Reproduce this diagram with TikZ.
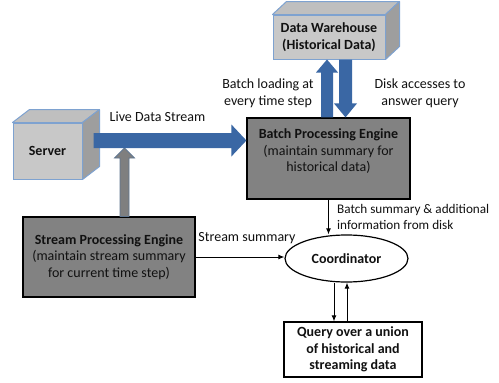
\documentclass[tikz,border=0pt]{standalone}
\usepackage{fontspec}
\setmainfont{Carlito}
\usetikzlibrary{arrows.meta,calc,shapes.geometric}
\definecolor{fatblue}{HTML}{3A67A4}
\definecolor{cubeedge}{HTML}{7EA2D0}
\definecolor{cubefront}{HTML}{C8C8C8}
\definecolor{cubetop}{HTML}{BFBFBF}
\definecolor{cubeside}{HTML}{9E9E9E}
\definecolor{enginegray}{HTML}{828282}
\definecolor{pipegray}{HTML}{7F7F7F}
\definecolor{pipeedge}{HTML}{5F7690}
\definecolor{ink}{HTML}{111111}
\tikzset{
  basefont/.style={font=\fontsize{14}{16.5}\selectfont, text=ink},
  cubefront/.style={draw=cubeedge, fill=cubefront, line width=1pt, inner sep=0pt, basefont},
  cubetopface/.style={draw=cubeedge, fill=cubetop, line width=1pt, line join=round},
  cubesideface/.style={draw=cubeedge, fill=cubeside, line width=1pt, line join=round},
  engine/.style={draw=black, fill=enginegray, line width=1.2pt, inner sep=0pt, basefont, align=center},
  plainbox/.style={draw=black, fill=white, line width=1.2pt, inner sep=0pt, basefont, align=center},
  coordshape/.style={draw=black, ellipse, line width=1.2pt, inner sep=0pt, basefont},
  caption/.style={basefont, inner sep=0pt, align=center},
  thinarrow/.style={draw=black, line width=1pt, -{Latex[length=6pt,width=5pt]}},
  bluepipe/.style={fill=fatblue},
  graypipe/.style={fill=pipegray, draw=pipeedge, line width=0.8pt, line join=miter},
}
\begin{document}
\begin{tikzpicture}[x=1pt, y=-1pt]
\useasboundingbox (0,0) rectangle (499,383);
\fill[white] (0,0) rectangle (499,383);

% Server cube
\node[cubefront, minimum width=69pt, minimum height=56pt] (srv) at (47.5,151) {\bfseries Server};
\draw[cubetopface] (srv.north west) -- ($(srv.north west)+(17,-13)$) -- ($(srv.north east)+(17,-13)$) -- (srv.north east) -- cycle;
\draw[cubesideface] (srv.north east) -- ($(srv.north east)+(17,-13)$) -- ($(srv.south east)+(17,-13)$) -- (srv.south east) -- cycle;

% Data warehouse cube
\node[cubefront, minimum width=112pt, minimum height=44pt, align=center] (dw) at (329,37) {\bfseries Data Warehouse\\\bfseries (Historical Data)};
\draw[cubetopface] (dw.north west) -- ($(dw.north west)+(14,-13)$) -- ($(dw.north east)+(14,-13)$) -- (dw.north east) -- cycle;
\draw[cubesideface] (dw.north east) -- ($(dw.north east)+(14,-13)$) -- ($(dw.south east)+(14,-13)$) -- (dw.south east) -- cycle;

% Engines, coordinator and query box
\node[engine, minimum width=163pt, minimum height=81pt] (bpe) at (328.5,158.5) {};
\node[caption] (bpetext) at ($(bpe.center)+(0,-7)$) {\bfseries Batch Processing Engine\\(maintain summary for\\historical data)};
\node[engine, minimum width=172pt, minimum height=80pt] (spe) at (109,257) {\bfseries Stream Processing Engine\\(maintain stream summary\\for current time step)};
\node[coordshape, minimum width=123pt, minimum height=47pt] (coord) at (346.5,258.5) {\bfseries Coordinator};
\node[plainbox, minimum width=138pt, minimum height=55pt] (query) at (353,349.5) {\bfseries Query over a union\\\bfseries of historical and\\\bfseries streaming data};

% level of the live data stream
\coordinate (lds) at (0,140.5);

% Gray pipe from the stream engine up to the live stream
\path[graypipe] let \p1=($(spe.north)+(15.5,0)$), \p2=(lds) in
  (\x1-4.5pt,\y1) -- (\x1-4.5pt,\y2-17.5pt) -- (\x1-10pt,\y2-17.5pt) -- (\x1,\y2-7.5pt)
  -- (\x1+10pt,\y2-17.5pt) -- (\x1+4.5pt,\y2-17.5pt) -- (\x1+4.5pt,\y1) -- cycle;

% Live data stream: server to batch engine
\fill[bluepipe] let \p1=($(srv.east |- lds)+(11,0)$), \p2=(bpe.west |- lds) in
  (\x1,\y1+7.5pt) -- (\x2-15pt,\y1+7.5pt) -- (\x2-15pt,\y1+16pt) -- (\x2,\y1)
  -- (\x2-15pt,\y1-16pt) -- (\x2-15pt,\y1-7.5pt) -- (\x1,\y1-7.5pt) -- cycle;

% Batch loading: batch engine up to the warehouse
\fill[bluepipe] let \p1=($(bpe.north)+(-1.5,0)$), \p2=(dw.south) in
  (\x1-6pt,\y1) -- (\x1-6pt,\y2-13pt) -- (\x1-11pt,\y2-13pt) -- (\x1,\y2)
  -- (\x1+11pt,\y2-13pt) -- (\x1+6pt,\y2-13pt) -- (\x1+6pt,\y1) -- cycle;

% Disk accesses: warehouse down to the batch engine
\fill[bluepipe] let \p1=($(bpe.north)+(17,0)$), \p2=(dw.south) in
  (\x1-6.5pt,\y2) -- (\x1-6.5pt,\y1+14pt) -- (\x1-11.5pt,\y1+14pt) -- (\x1,\y1)
  -- (\x1+11.5pt,\y1+14pt) -- (\x1+6.5pt,\y1+14pt) -- (\x1+6.5pt,\y2) -- cycle;

% Thin connectors
\draw[thinarrow] (bpe.south) -- (bpe.south |- coord.north);
\draw[thinarrow] (spe.east) -- (spe.east -| coord.west);
\coordinate (qdown) at ($(query.north)+(-19,0)$);
\coordinate (qup) at ($(query.north)+(-6,0)$);
\draw[thinarrow] (qdown |- coord.south) -- (qdown);
\draw[thinarrow] (qup) -- (qup |- coord.south);

% Labels
\node[caption] (lblive) at (157.5,117) {Live Data Stream};
\node[caption] (lbload) at (268,93.5) {Batch loading at\\every time step};
\node[caption] (lbdisk) at (420,93.5) {Disk accesses to\\answer query};
\node[caption, align=left, anchor=west, font=\fontsize{13.2}{15.5}\selectfont] (lbbatch) at (337,217) {Batch summary \& additional\\information from disk};
\node[caption] (lbstream) at (247,238) {Stream summary};
\end{tikzpicture}
\end{document}
